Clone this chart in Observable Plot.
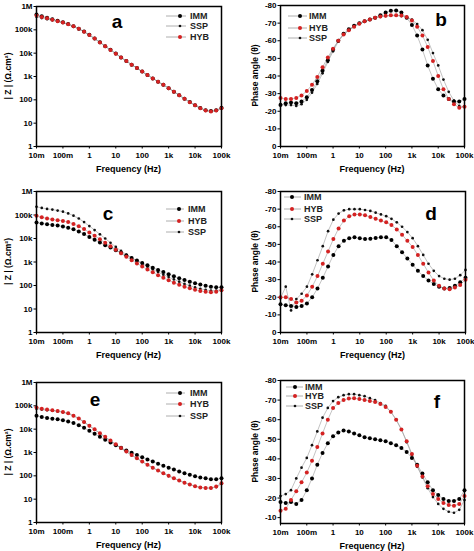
<!DOCTYPE html>
<html><head><meta charset="utf-8">
<script src="https://cdn.jsdelivr.net/npm/d3@7"></script>
<script src="https://cdn.jsdelivr.net/npm/@observablehq/plot@0.6"></script>
<style>
body{margin:0;background:#fff;}
#wrap{position:relative;width:474px;height:551px;overflow:hidden;background:#fff;}
#wrap svg{position:absolute;}
</style></head><body><div id="wrap"></div>
<script>
// Frequencies (Hz)
const freq = [0.01,0.0158,0.0251,0.0398,0.0631,0.1,0.158,0.251,0.398,0.631,1,1.58,2.51,3.98,6.31,10,15.8,25.1,39.8,63.1,100,158,251,398,631,1000,1580,2510,3980,6310,10000,15800,25100,39800,63100,100000];

// Panel a |Z| (ohm.cm2)
const a_IMM = [450000,385000,330000,285000,245000,210000,178000,144000,112000,84000,61000,42500,29500,20000,13900,9600,6600,4600,3200,2300,1620,1150,830,600,440,316,224,158,112,80,59,45,36,33,36,46];
const a_SSP = [360000,320000,285000,255000,225000,198000,170000,138000,108000,82000,59000,41500,28500,19800,13700,9400,6500,4550,3170,2280,1610,1140,825,595,437,314,222,156,110,78,57,43,34,31,34,42];
const a_HYB = [410000,355000,310000,270000,235000,204000,174000,141000,110000,83000,60000,42000,29000,20000,13800,9500,6600,4600,3200,2300,1620,1150,830,600,440,316,224,158,112,79,58,44,35,32,35,44];

// Panel b phase (deg)
const b_IMM = [-23.5,-24.5,-25,-24.5,-25.5,-28,-32,-37,-43,-49,-55,-60,-64,-66.5,-68.5,-70,-71,-72,-73,-74.5,-76,-77,-77.2,-76,-73,-69,-63,-55,-46,-38.5,-32.5,-29,-27,-25.5,-25.5,-27];
const b_HYB = [-27.5,-27,-27,-27.5,-29,-31.5,-35,-39.5,-45,-50.5,-55.5,-60,-63.5,-66,-68,-69.7,-71,-72,-73,-73.7,-74.2,-74.5,-74.5,-74.3,-73.5,-71.5,-68,-63,-56.5,-48.5,-40,-32.5,-27,-24,-22,-22.5];
const b_SSP = [-24,-23.5,-23.5,-23,-24,-26.5,-30.5,-35.5,-41.5,-48,-54,-59.5,-63.5,-66,-68,-69.7,-71,-72,-73,-73.5,-74,-74.2,-74.2,-74,-73.5,-72,-69.5,-66,-60.5,-53,-46,-38,-31,-26,-23,-22.5];

// Panel c |Z|
const c_IMM = [47900,43600,40700,38000,35500,32400,28800,24500,20000,15500,11700,8900,6800,5200,4100,3160,2450,1900,1480,1150,910,720,575,457,372,302,245,204,170,145,126,110,98,89,85,85];
const c_HYB = [93300,79400,70800,64600,60300,56200,50100,41700,33100,25100,18200,13200,9300,6600,4680,3310,2340,1660,1200,871,646,479,363,275,214,166,132,107,89,76,66,59,54,51,54,63];
const c_SSP = [224000,200000,182000,170000,155000,138000,117000,93300,70800,50100,33900,22900,15100,10000,6600,4370,2950,2090,1510,1120,832,631,479,372,288,229,182,145,117,98,83,72,65,60,60,68];

// Panel d phase
const d_IMM = [-16,-15.5,-15,-14.5,-15,-16.5,-20,-25,-31,-37.5,-44,-49,-52,-53.5,-54,-53.5,-53,-53.2,-53.6,-54,-54,-52.5,-49,-45.5,-42,-38.5,-35,-32,-29.5,-27.5,-26,-25,-25.3,-26.5,-28.5,-31];
const d_HYB = [-20,-20,-19,-17,-18,-21,-26,-32,-39,-46,-53,-59,-63.5,-66,-67,-67,-66.5,-65.5,-64.5,-63.5,-62.5,-61,-58.5,-55.5,-52,-48.5,-44,-39,-34,-29.5,-26.5,-25,-24.5,-25.5,-27,-30];
const d_SSP = [-19.5,-26,-12.5,-19,-22,-26,-33,-41,-49,-57.5,-64,-67.5,-69.3,-70,-70,-70,-69.5,-69,-68,-67,-66,-64.5,-62.5,-60,-57,-53.5,-49,-44,-39,-35,-32,-30.5,-30,-30.5,-32.5,-35.5];

// Panel e |Z|
const e_IMM = [37200,33100,30200,28200,26300,24000,21400,18200,14800,11500,8500,6310,4680,3550,2690,2040,1580,1230,977,776,631,501,407,331,269,224,186,155,129,110,95,85,78,72,72,79];
const e_HYB = [85100,75900,69200,64600,60300,55000,47900,38000,28800,20400,14100,9800,6760,4680,3240,2240,1550,1100,776,562,407,302,224,170,129,100,79,63,51,43,36,32,30,30,35,48];
const e_SSP = [75900,69200,64600,61700,57500,52500,45700,37200,28200,20000,13800,9550,6610,4570,3160,2190,1510,1070,759,550,398,295,219,166,126,98,78,62,50,42,35,32,30,30,33,45];

// Panel f phase
const f_IMM = [-18,-17.5,-18,-17,-19,-24,-30,-37,-43,-48,-51.5,-53.5,-54.5,-54,-53,-52,-51,-50.5,-50,-49.5,-49,-48,-47,-45.5,-43.5,-40.5,-37,-32.5,-28,-24,-21.5,-19.5,-18.5,-18.5,-19.5,-24];
const f_HYB = [-13.5,-14.5,-19,-23.5,-28,-33,-39,-46,-53,-60,-66,-68.5,-70,-70.8,-71,-70.5,-70,-69.5,-69,-68,-66.5,-64,-60,-55,-49,-42.5,-36.5,-31,-26,-22,-19.5,-17.5,-16.5,-16,-17,-21];
const f_SSP = [-21,-22,-24,-30,-35.5,-40.5,-47,-54,-61,-66,-69.5,-71.5,-72.5,-73,-73,-72.5,-72,-71,-70,-68.5,-67,-64,-60,-55,-48.5,-42,-36,-30.5,-25,-20.5,-17,-14.5,-13,-12.5,-14,-19];

// Tick labels
const freqTicks = [0.01,0.1,1,10,100,1000,10000,100000];
const freqTickLabels = ["10m","100m","1","10","100","1k","10k","100k"];
const zTicks = [1,10,100,1000,10000,100000,1000000];
const zTickLabels = ["1","10","100","1k","10k","100k","1M"];
const phaseTicks = [0,-10,-20,-30,-40,-50,-60,-70,-80];
const phaseTicksF = [-10,-20,-30,-40,-50,-60,-70,-80];

const FONT = "'Liberation Sans', Arial, Helvetica, sans-serif";
const style = {IMM:{fill:"#000", r:2}, HYB:{fill:"#d42222", r:2}, SSP:{fill:"#111", r:1.35}};

const panels = [
  {id:"a", kind:"z", left:0, top:0, w:234, h:180, ml:36, mr:13, mt:6, mb:34,
   series:[["IMM",a_IMM],["SSP",a_SSP],["HYB",a_HYB]], legend:["IMM","SSP","HYB"],
   lg:{x1:166, x2:186, mx:180, tx:190, ys:[16,26,37]}, letter:{x:117, y:21}},
  {id:"b", kind:"p", left:234, top:0, w:240, h:180, ml:46, mr:10, mt:5, mb:34, ydom:[0,-80], yt:phaseTicks,
   series:[["SSP",b_SSP],["IMM",b_IMM],["HYB",b_HYB]], legend:["IMM","HYB","SSP"],
   lg:{x1:54, x2:73, mx:66, tx:75, ys:[16,28,38]}, letter:{x:207, y:19}},
  {id:"c", kind:"z", left:0, top:180, w:234, h:180, ml:36, mr:13, mt:11, mb:28,
   series:[["SSP",c_SSP],["IMM",c_IMM],["HYB",c_HYB]], legend:["IMM","HYB","SSP"],
   lg:{x1:166, x2:184, mx:179, tx:188, ys:[29,41,52]}, letter:{x:108, y:33}},
  {id:"d", kind:"p", left:234, top:180, w:240, h:180, ml:46, mr:9, mt:11, mb:28, ydom:[0,-80], yt:phaseTicks,
   series:[["SSP",d_SSP],["IMM",d_IMM],["HYB",d_HYB]], legend:["IMM","HYB","SSP"],
   lg:{x1:50, x2:67, mx:58, tx:70, ys:[17,29,39]}, letter:{x:197, y:33}},
  {id:"e", kind:"z", left:0, top:365, w:234, h:186, ml:36, mr:13, mt:17, mb:29,
   series:[["SSP",e_SSP],["IMM",e_IMM],["HYB",e_HYB]], legend:["IMM","HYB","SSP"],
   lg:{x1:166, x2:185, mx:180, tx:190, ys:[28,39,51]}, letter:{x:95, y:34}},
  {id:"f", kind:"p", left:234, top:365, w:240, h:186, ml:46, mr:10, mt:15, mb:28, ydom:[-7,-80], yt:phaseTicksF,
   series:[["SSP",f_SSP],["IMM",f_IMM],["HYB",f_HYB]], legend:["IMM","HYB","SSP"],
   lg:{x1:52, x2:69, mx:61, tx:71, ys:[22,31,41]}, letter:{x:203, y:36}}
];

const wrap = document.getElementById("wrap");

for (const p of panels) {
  const rows = [];
  for (const [name, vals] of p.series) vals.forEach((v, i) => rows.push({name, f: freq[i], v}));
  const yScale = p.kind === "z"
    ? {type:"log", domain:[1, 1e6]}
    : {type:"linear", domain:p.ydom};
  const yAxis = p.kind === "z"
    ? Plot.axisY({ticks:zTicks, tickFormat:d => zTickLabels[zTicks.indexOf(d)], tickSize:2.5, tickPadding:1.5, label:null, fontSize:8})
    : Plot.axisY({ticks:p.yt, tickFormat:d => String(d), tickSize:2.5, tickPadding:1.5, label:null, fontSize:8});
  const marks = [
    Plot.axisX({ticks:freqTicks, tickFormat:d => freqTickLabels[freqTicks.indexOf(d)], tickSize:2.5, tickPadding:3.5, label:null, fontSize:8}),
    yAxis
  ];
  for (const [name] of p.series) {
    const sub = rows.filter(r => r.name === name);
    marks.push(Plot.line(sub, {x:"f", y:"v", stroke:"#9a9a9a", strokeWidth:0.6}));
  }
  for (const [name] of p.series) {
    const sub = rows.filter(r => r.name === name);
    marks.push(Plot.dot(sub, {x:"f", y:"v", r:style[name].r, fill:style[name].fill, stroke:"none"}));
  }
  marks.push(Plot.frame({stroke:"#000", strokeWidth:1.5}));

  const svg = Plot.plot({
    width:p.w, height:p.h,
    marginLeft:p.ml, marginRight:p.mr, marginTop:p.mt, marginBottom:p.mb,
    x:{type:"log", domain:[0.01, 1e5]},
    y:yScale,
    style:{fontFamily:FONT, fontSize:"8px", fontWeight:"bold", color:"#000", background:"transparent", overflow:"visible"},
    marks
  });
  svg.style.left = p.left + "px";
  svg.style.top = p.top + "px";
  wrap.appendChild(svg);

  const s = d3.select(svg);
  const fx0 = p.ml, fx1 = p.w - p.mr, fy0 = p.mt, fy1 = p.h - p.mb;
  // x axis title
  s.append("text").attr("x", (fx0 + fx1) / 2).attr("y", fy1 + 26)
    .attr("text-anchor", "middle").attr("font-family", FONT).attr("font-size", 9).attr("font-weight", "bold")
    .attr("fill", "#000").text("Frequency (Hz)");
  // y axis title
  const yTitleX = p.kind === "z" ? p.ml - 28 : p.ml - 25;
  s.append("text").attr("transform", `translate(${yTitleX + 3},${(fy0 + fy1) / 2}) rotate(-90)`)
    .attr("text-anchor", "middle").attr("font-family", FONT).attr("font-size", 8.5).attr("font-weight", "bold")
    .attr("fill", "#000").text(p.kind === "z" ? "| Z | (Ω.cm²)" : "Phase angle (θ)");
  // panel letter
  s.append("text").attr("x", p.letter.x).attr("y", p.letter.y).attr("dy", "0.35em")
    .attr("text-anchor", "middle").attr("font-family", FONT).attr("font-size", 19).attr("font-weight", "bold")
    .attr("fill", "#000").text(p.id);
  // legend
  p.legend.forEach((name, i) => {
    const y = p.lg.ys[i];
    s.append("line").attr("x1", p.lg.x1).attr("x2", p.lg.x2).attr("y1", y).attr("y2", y)
      .attr("stroke", "#9a9a9a").attr("stroke-width", 0.8);
    s.append("circle").attr("cx", p.lg.mx).attr("cy", y).attr("r", style[name].r).attr("fill", style[name].fill);
    s.append("text").attr("x", p.lg.tx).attr("y", y).attr("dy", "0.35em").attr("text-anchor", "start")
      .attr("font-family", FONT).attr("font-size", 9).attr("font-weight", "bold").attr("fill", "#222").text(name);
  });
}
</script>
</body></html>
